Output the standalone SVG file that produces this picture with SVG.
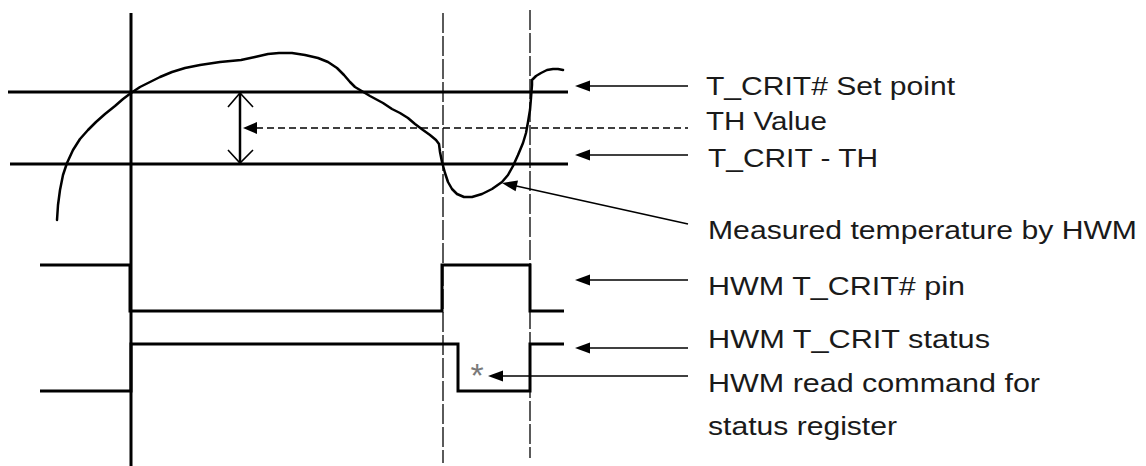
<svg xmlns="http://www.w3.org/2000/svg" width="1146" height="466" viewBox="0 0 1146 466">
<style>
.thick{stroke:#000;stroke-width:3;fill:none}
.curve{stroke:#000;stroke-width:2.5;fill:none;stroke-linejoin:round;stroke-linecap:round}
.gdash{stroke:#5a5a5a;stroke-width:2;fill:none;stroke-dasharray:20 3}
.shaft{stroke:#000;stroke-width:1.6;fill:none}
.dash{stroke:#000;stroke-width:1.6;fill:none;stroke-dasharray:7 4}
.head{fill:#000}
.lbl{font-family:"Liberation Sans",Arial,sans-serif;font-size:25px;fill:#1a1a1a}
</style>
<rect width="1146" height="466" fill="#fff"/>
<g id="axes">
  <line class="thick" x1="131" y1="13" x2="131" y2="466"/>
  <line class="gdash" x1="443" y1="13" x2="443" y2="463"/>
  <line class="gdash" x1="530" y1="10" x2="530" y2="458"/>
  <line class="thick" x1="8" y1="92" x2="568" y2="92"/>
  <line class="thick" x1="10" y1="164" x2="568" y2="164"/>
</g>
<g id="th-span">
  <line stroke="#000" stroke-width="2.5" x1="240" y1="93" x2="240" y2="163"/>
  <polyline class="shaft" stroke-width="2" points="228,107 240,93 253,107"/>
  <polyline class="shaft" stroke-width="2" points="228,150 240,163 253,150"/>
</g>
<g id="temperature-curve">
  <path class="curve" d="M57,220 L58,205 L60,190 L63,175 L67,163 L73,150 L80,139 L88,130 L96,122 L105,114 L115,106 L123,99 L131,93 L140,87 L150,82 L160,77 L172,72 L185,68 L200,65 L220,62 L241,60 L255,57 L268,54 L279,53 L292,53 L305,55 L318,58 L328,62 L337,68 L344,75 L350,82 L355,87 L360,90 L370,96 L383,103 L392,109 L400,113 L408,118 L415,124 L423,130 L430,135 L436,140 L439,144 L440,152 L442,162 L445,173 L448,182 L452,189 L457,194 L464,197 L472,197 L482,194 L492,189 L502,182 L508,175 L513,166 L518,155 L523,143 L526,133 L528,122 L530,110 L531,98 L532,85 L532,80 L536,76 L541,73 L547,70 L553,69 L558,69 L563,70"/>
</g>
<g id="tcrit-pin-wave">
  <polyline class="thick" points="40,265 130,265 130,311 442,311 442,265 530,265 530,311 564,311"/>
</g>
<g id="tcrit-status-wave">
  <polyline class="thick" points="40,391 131,391 131,344 458,344 458,391 530,391 530,344 564,344"/>
  <text x="477" y="387" style="font-family:'Liberation Sans',Arial,sans-serif;font-size:34px;fill:#7a7a7a" text-anchor="middle">*</text>
</g>
<g id="connectors">
  <line class="shaft" x1="589" y1="86" x2="688" y2="86"/>
  <polygon class="head" points="575,86 590,80.5 590,91.5"/>
  <line class="dash" x1="256" y1="128" x2="688" y2="128"/>
  <polygon class="head" points="243,128 257,122 257,134"/>
  <line class="shaft" x1="589" y1="155" x2="688" y2="155"/>
  <polygon class="head" points="575,155 590,149.5 590,160.5"/>
  <line class="shaft" x1="514" y1="185.5" x2="688" y2="224"/>
  <polygon class="head" points="502,183 518,180.5 515.6,191.3"/>
  <line class="shaft" x1="589" y1="280" x2="688" y2="280"/>
  <polygon class="head" points="575,280 590,274.5 590,285.5"/>
  <line class="shaft" x1="589" y1="348" x2="688" y2="348"/>
  <polygon class="head" points="575,348 590,342.5 590,353.5"/>
  <line class="shaft" x1="502" y1="376" x2="688" y2="376"/>
  <polygon class="head" points="488,376 503,370.5 503,381.5"/>
</g>
<g id="labels">
  <text class="lbl" x="706" y="95" textLength="249" lengthAdjust="spacingAndGlyphs">T_CRIT# Set point</text>
  <text class="lbl" x="706" y="130" textLength="121" lengthAdjust="spacingAndGlyphs">TH Value</text>
  <text class="lbl" x="708" y="167" textLength="170" lengthAdjust="spacingAndGlyphs">T_CRIT - TH</text>
  <text class="lbl" x="708" y="239" textLength="429" lengthAdjust="spacingAndGlyphs">Measured temperature by HWM</text>
  <text class="lbl" x="708" y="295" textLength="257" lengthAdjust="spacingAndGlyphs">HWM T_CRIT# pin</text>
  <text class="lbl" x="708" y="348" textLength="282" lengthAdjust="spacingAndGlyphs">HWM T_CRIT status</text>
  <text class="lbl" x="708" y="392" textLength="332" lengthAdjust="spacingAndGlyphs">HWM read command for</text>
  <text class="lbl" x="708" y="435" textLength="189" lengthAdjust="spacingAndGlyphs">status register</text>
</g>
</svg>
